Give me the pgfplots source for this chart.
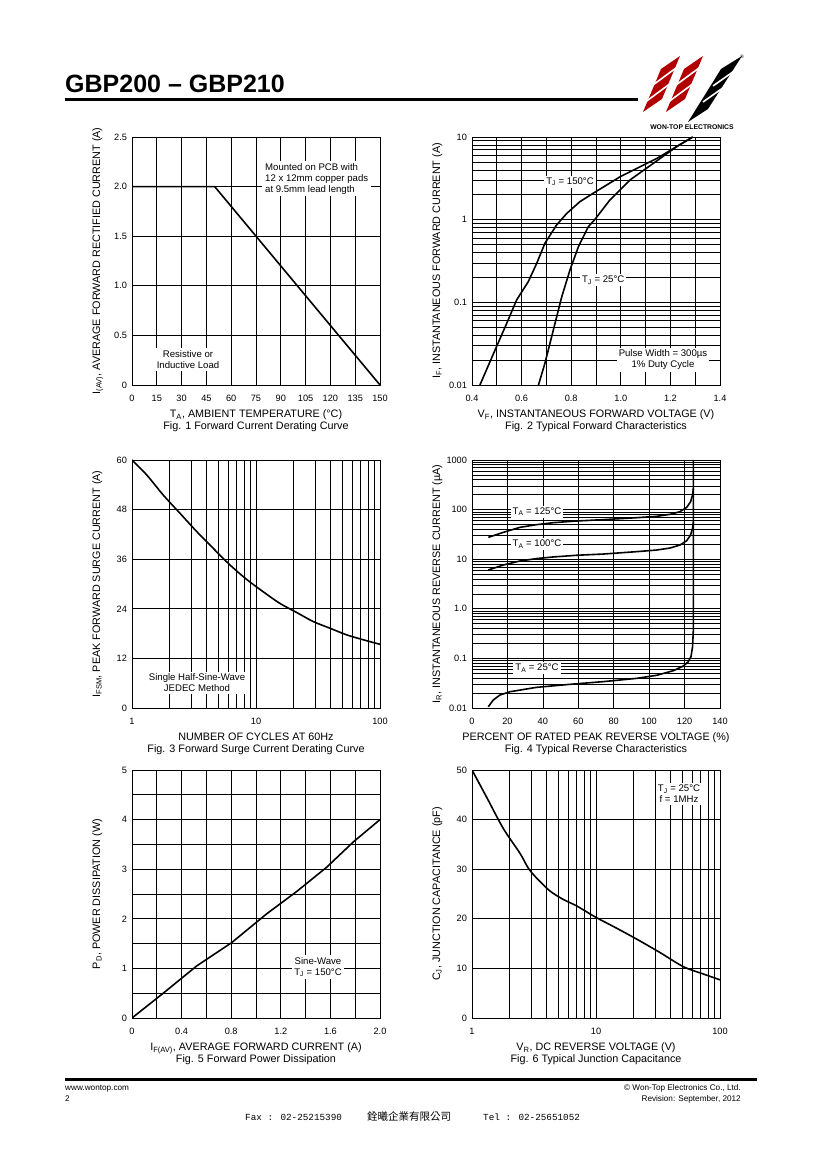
\documentclass[border=0pt]{standalone}
\usepackage{pgfplots}
\pgfplotsset{compat=1.18}
\usepackage{fontspec}
\setmainfont{Liberation Sans}
\newfontfamily\monofont{Liberation Mono}
\newfontfamily\cjk{Noto Sans CJK TC}
\newcommand\tickfont{\fontsize{9.2}{10}\selectfont}
\newcommand\labfont{\fontsize{10.8}{12}\selectfont}
\newcommand\annfont{\fontsize{9.6}{11}\selectfont}
\tikzset{curve/.style={black, line width=1.6pt, mark=none}}
\pgfplotsset{
  ds/.style={
    width=248pt, height=248pt, scale only axis, anchor=south west,
    axis line style={line width=0.9pt},
    grid=both,
    major grid style={line width=0.7pt, black},
    minor grid style={line width=0.7pt, black},
    major tick length=0pt, minor tick length=0pt,
    ticklabel style={font=\tickfont},
    xticklabel style={yshift=-6.5pt},
    yticklabel style={xshift=-1.5pt},
    /pgf/number format/assume math mode=true,
    clip=true,
  }
}
\begin{document}
\begin{tikzpicture}
\fill[white] (0,0) rectangle (820pt,1160pt);
\useasboundingbox (0,0) rectangle (820pt,1160pt);

% Fig 1
\begin{axis}[ds, at={(132pt,775pt)}, xmin=0,xmax=150, ymin=0,ymax=2.5,
  xtick={0,15,30,45,60,75,90,105,120,135,150},
  xticklabels={0,15,30,45,60,75,90,105,120,135,150},
  ytick={0,0.5,1,1.5,2,2.5}, yticklabels={0,0.5,1.0,1.5,2.0,2.5}]
\addplot[curve] coordinates {(0,2) (50,2) (150,0)};
\end{axis}

% Fig 2
\begin{axis}[ds, at={(472pt,775pt)}, xmin=0.4,xmax=1.4, ymode=log, ymin=0.01,ymax=10,
  xtick={0.4,0.6,0.8,1.0,1.2,1.4}, xticklabels={0.4,0.6,0.8,1.0,1.2,1.4},
  minor xtick={0.5,0.7,0.9,1.1,1.3},
  ytick={0.01,0.1,1,10}, yticklabels={0.01,0.1,1,10},
  minor ytick={0.02,0.03,0.04,0.05,0.06,0.07,0.08,0.09,0.2,0.3,0.4,0.5,0.6,0.7,0.8,0.9,2,3,4,5,6,7,8,9}]
\addplot[curve] coordinates {(0.432,0.01) (0.493,0.0265) (0.540,0.0557) (0.580,0.107) (0.627,0.178) (0.661,0.2965) (0.694,0.518) (0.741,0.861) (0.782,1.19) (0.835,1.65) (0.889,2.09) (0.997,3.3) (1.145,5.5) (1.29,10)};
\addplot[curve] coordinates {(0.668,0.01) (0.694,0.0183) (0.728,0.0463) (0.762,0.117) (0.795,0.246) (0.829,0.471) (0.869,0.822) (0.896,1.01) (0.956,1.73) (1.037,3.02) (1.131,4.80) (1.225,7.64) (1.29,10)};
\end{axis}

% Fig 3
\begin{axis}[ds, at={(132pt,452pt)}, xmode=log, xmin=1,xmax=100, ymin=0,ymax=60,
  xtick={1,10,100}, xticklabels={1,10,100},
  minor xtick={2,3,4,5,6,7,8,9,20,30,40,50,60,70,80,90},
  ytick={0,12,24,36,48,60}, yticklabels={0,12,24,36,48,60}]
\addplot[curve, smooth] coordinates {(1,60) (1.313,56.4) (1.789,51.5) (2.438,47.1) (3.323,42.7) (4.528,38.6) (6.17,34.6) (8.41,31.1) (11.46,28.1) (15.6,25.3) (21.3,23.1) (29.0,20.9) (39.5,19.3) (53.8,17.7) (73.4,16.5) (100,15.4)};
\end{axis}

% Fig 4
\begin{axis}[ds, at={(472pt,452pt)}, xmin=0,xmax=140, ymode=log, ymin=0.01,ymax=1000,
  xtick={0,20,40,60,80,100,120,140}, xticklabels={0,20,40,60,80,100,120,140},
  ytick={0.01,0.1,1,10,100,1000}, yticklabels={0.01,0.1,1.0,10,100,1000},
  minor ytick={0.02,0.03,0.04,0.05,0.06,0.07,0.08,0.09,0.2,0.3,0.4,0.5,0.6,0.7,0.8,0.9,2,3,4,5,6,7,8,9,20,30,40,50,60,70,80,90,200,300,400,500,600,700,800,900}]
\addplot[curve] coordinates {(9.2,27.6) (17.7,34.8) (27.1,43.9) (36.5,49.7) (45.9,54.5) (59.1,58.9) (74.1,62.7) (93.0,68.7) (104.2,73.1) (111.8,80.3) (117.4,90.8) (121.2,111) (123.4,144) (124.5,197) (125,270)};
\addplot[curve] coordinates {(9.2,6.06) (17.7,7.64) (27.1,9.2) (36.5,10.3) (45.9,11.1) (59.1,12.0) (74.1,12.7) (93.0,14.2) (104.2,15.3) (111.8,16.8) (117.4,19.3) (121.2,23.6) (123.4,30.8) (124.5,41.9) (125,57)};
\addplot[curve] coordinates {(9.2,0.0106) (12.0,0.0145) (15.8,0.0183) (21.5,0.0213) (36.5,0.0261) (55.3,0.030) (74.1,0.034) (93.0,0.0396) (104.2,0.0456) (113.7,0.0566) (119.3,0.0703) (122.1,0.086) (123.6,0.108) (124.5,0.17) (125,0.4) (125,1000)};
\end{axis}

% Fig 5
\begin{axis}[ds, at={(132pt,142pt)}, xmin=0,xmax=2, ymin=0,ymax=5,
  xtick={0,0.4,0.8,1.2,1.6,2.0}, xticklabels={0,0.4,0.8,1.2,1.6,2.0},
  minor xtick={0.2,0.6,1.0,1.4,1.8},
  ytick={0,1,2,3,4,5}, yticklabels={0,1,2,3,4,5},
  minor ytick={0.5,1.5,2.5,3.5,4.5}]
\addplot[curve] coordinates {(0,0) (0.252,0.50) (0.522,1.05) (0.804,1.52) (1.086,2.1) (1.328,2.55) (1.57,3.04) (1.785,3.55) (2,4)};
\end{axis}

% Fig 6
\begin{axis}[ds, at={(472pt,142pt)}, xmode=log, xmin=1,xmax=100, ymin=0,ymax=50,
  xtick={1,10,100}, xticklabels={1,10,100},
  minor xtick={2,3,4,5,6,7,8,9,20,30,40,50,60,70,80,90},
  ytick={0,10,20,30,40,50}, yticklabels={0,10,20,30,40,50}]
\addplot[curve, smooth] coordinates {(1,50) (1.313,44.5) (1.789,38.2) (2.438,33.2) (2.847,30.2) (3.323,28.2) (4.256,25.6) (5.45,23.9) (6.98,22.6) (9.82,20.4) (14.68,18.1) (21.3,15.9) (32.8,13.2) (50.6,10.35) (73.4,8.87) (100,7.7)};
\end{axis}

\begin{scope}[x=1pt,y=1pt]
% header
\node[anchor=base west, inner sep=0, font=\bfseries\fontsize{25}{28}\selectfont] at (65,1067) {GBP200 – GBP210};
\draw[line width=3pt] (65,1060) -- (638,1060);
% logo
\fill[red!70!black] (643,1048) -- (662,1061) -- (680,1104) -- (661,1091) -- cycle;
\fill[red!70!black] (666,1048) -- (685,1061) -- (703,1104) -- (684,1091) -- cycle;
\fill[black] (688,1038) -- (708,1051) -- (742,1104) -- (721,1091) -- cycle;
\draw[white, line width=1.6pt] (646,1058.5) -- (669,1075.5) (653,1075) -- (676,1092);
\draw[white, line width=1.6pt] (669,1058.5) -- (692,1075.5) (676,1075) -- (699,1092);
\draw[white, line width=1.6pt] (703,1058) -- (727,1075) (713,1074) -- (737,1091);
\node[font=\bfseries\fontsize{6.8}{8}\selectfont, inner sep=0] at (692,1033) {WON-TOP ELECTRONICS};
\node[font=\fontsize{5}{6}\selectfont, inner sep=0] at (742,1103) {®};

% y labels
\node[rotate=90, anchor=base, font=\labfont, inner sep=0] at (100,899) {I\textsubscript{(AV)}, AVERAGE FORWARD RECTIFIED CURRENT (A)};
\node[rotate=90, anchor=base, font=\labfont, inner sep=0] at (440,899) {I\textsubscript{F}, INSTANTANEOUS FORWARD CURRENT (A)};
\node[rotate=90, anchor=base, font=\labfont, inner sep=0] at (100,576) {I\textsubscript{FSM}, PEAK FORWARD SURGE CURRENT (A)};
\node[rotate=90, anchor=base, font=\labfont, inner sep=0] at (440,576) {I\textsubscript{R}, INSTANTANEOUS REVERSE CURRENT (µA)};
\node[rotate=90, anchor=base, font=\labfont, inner sep=0] at (100,266) {P\textsubscript{D}, POWER DISSIPATION (W)};
\node[rotate=90, anchor=base, font=\labfont, inner sep=0] at (440,266) {C\textsubscript{J}, JUNCTION CAPACITANCE (pF)};

% x labels
\node[anchor=base, font=\labfont, inner sep=0] at (256,742) {T\textsubscript{A}, AMBIENT TEMPERATURE (°C)};
\node[anchor=base, font=\labfont, inner sep=0] at (256,730.5) {Fig. 1 Forward Current Derating Curve};
\node[anchor=base, font=\labfont, inner sep=0] at (596,742) {V\textsubscript{F}, INSTANTANEOUS FORWARD VOLTAGE (V)};
\node[anchor=base, font=\labfont, inner sep=0] at (596,730.5) {Fig. 2 Typical Forward Characteristics};
\node[anchor=base, font=\labfont, inner sep=0] at (256,419) {NUMBER OF CYCLES AT 60Hz};
\node[anchor=base, font=\labfont, inner sep=0] at (256,407.5) {Fig. 3 Forward Surge Current Derating Curve};
\node[anchor=base, font=\labfont, inner sep=0] at (596,419) {PERCENT OF RATED PEAK REVERSE VOLTAGE (\%)};
\node[anchor=base, font=\labfont, inner sep=0] at (596,407.5) {Fig. 4 Typical Reverse Characteristics};
\node[anchor=base, font=\labfont, inner sep=0] at (256,109) {I\textsubscript{F(AV)}, AVERAGE FORWARD CURRENT (A)};
\node[anchor=base, font=\labfont, inner sep=0] at (256,97.5) {Fig. 5 Forward Power Dissipation};
\node[anchor=base, font=\labfont, inner sep=0] at (596,109) {V\textsubscript{R}, DC REVERSE VOLTAGE (V)};
\node[anchor=base, font=\labfont, inner sep=0] at (596,97.5) {Fig. 6 Typical Junction Capacitance};

% annotations
\node[fill=white, anchor=north west, align=left, font=\annfont, inner xsep=3pt, inner ysep=2pt] at (262,999) {Mounted on PCB with\\12 x 12mm copper pads\\at 9.5mm lead length};
\node[fill=white, align=center, font=\annfont, inner sep=2pt] at (188,800.5) {Resistive or\\Inductive Load};
\node[fill=white, font=\annfont, inner sep=2pt] at (570,978.3) {T\textsubscript{J} = 150°C};
\node[fill=white, font=\annfont, inner sep=2pt] at (603.3,880) {T\textsubscript{J} = 25°C};
\node[fill=white, align=center, font=\annfont, inner sep=2pt] at (663,800) {Pulse Width = 300µs\\1\% Duty Cycle};
\node[fill=white, align=center, font=\annfont, inner sep=2pt] at (197,477.3) {Single Half-Sine-Wave\\JEDEC Method};
\node[fill=white, font=\annfont, inner sep=2pt] at (537,648.3) {T\textsubscript{A} = 125°C};
\node[fill=white, font=\annfont, inner sep=2pt] at (537,615.7) {T\textsubscript{A} = 100°C};
\node[fill=white, font=\annfont, inner sep=2pt] at (537,491.7) {T\textsubscript{A} = 25°C};
\node[fill=white, align=center, font=\annfont, inner sep=2pt] at (318,192.8) {Sine-Wave\\T\textsubscript{J} = 150°C};
\node[fill=white, align=center, font=\annfont, inner sep=2pt] at (679,366.2) {T\textsubscript{J} = 25°C\\f = 1MHz};

% footer
\draw[line width=3pt] (65,80.5) -- (757,80.5);
\node[anchor=base west, inner sep=0, font=\fontsize{8.2}{9}\selectfont] at (65,69) {www.wontop.com};
\node[anchor=base west, inner sep=0, font=\fontsize{8.2}{9}\selectfont] at (65,58) {2};
\node[anchor=base east, inner sep=0, font=\fontsize{8.2}{9}\selectfont] at (741,69) {© Won-Top Electronics Co., Ltd.};
\node[anchor=base east, inner sep=0, font=\fontsize{8.2}{9}\selectfont] at (741,58) {Revision: September, 2012};
\node[anchor=base west, inner sep=0, font=\monofont\fontsize{9.3}{10}\selectfont] at (245,39) {Fax : 02-25215390};
\node[anchor=base west, inner sep=0, font=\cjk\fontsize{10.5}{11}\selectfont] at (367,39) {銓曦企業有限公司};
\node[anchor=base west, inner sep=0, font=\monofont\fontsize{9.3}{10}\selectfont] at (483,39) {Tel : 02-25651052};
\end{scope}
\end{tikzpicture}
\end{document}
